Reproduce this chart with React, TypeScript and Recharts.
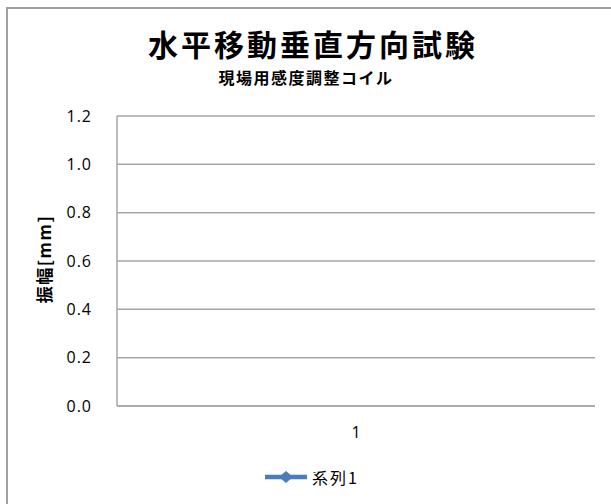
import React from "react";
import {
  LineChart,
  Line,
  XAxis,
  YAxis,
  CartesianGrid,
} from "recharts";

// 系列1 は値なし（空の系列）
const categories = ["1"];
const series1: (number | null)[] = [null];
const yTicks = [0, 0.2, 0.4, 0.6, 0.8, 1.0, 1.2];

const SERIES_COLOR = "#4A7EBB";
const GRID_COLOR = "#A6A6A6";
const JP_FONT = "'Noto Sans CJK JP', 'Noto Sans', sans-serif";
const NUM_FONT = "'Open Sans', 'Noto Sans', sans-serif";

const data = categories.map((c, i) => ({ name: c, s1: series1[i] }));

function LegendContent() {
  return (
    <div
      style={{
        display: "flex",
        alignItems: "center",
        fontFamily: JP_FONT,
        fontSize: 16,
        letterSpacing: 2,
        color: "#000",
        lineHeight: "20px",
      }}
    >
      <svg width={44} height={14} style={{ marginRight: 3 }}>
        <line x1={0} y1={7} x2={42} y2={7} stroke={SERIES_COLOR} strokeWidth={4.5} />
        <polygon points="21,1 28,7 21,13 14,7" fill={SERIES_COLOR} />
      </svg>
      <span>系列1</span>
    </div>
  );
}

export default function App() {
  return (
    <div
      style={{
        position: "fixed",
        left: 0,
        top: 0,
        width: 611,
        height: 504,
        background: "#fff",
        overflow: "hidden",
      }}
    >
      {/* chart frame, cropped at right and bottom */}
      <div
        style={{
          position: "absolute",
          left: 6,
          top: 7,
          width: 700,
          height: 600,
          border: "2px solid #A0A0A0",
        }}
      />
      <div
        style={{
          position: "absolute",
          left: 313,
          top: 23,
          transform: "translateX(-50%)",
          whiteSpace: "nowrap",
          fontFamily: JP_FONT,
          fontWeight: 700,
          fontSize: 30,
          letterSpacing: 3,
          lineHeight: "40px",
        }}
      >
        水平移動垂直方向試験
      </div>
      <div
        style={{
          position: "absolute",
          left: 306,
          top: 66,
          transform: "translateX(-50%)",
          whiteSpace: "nowrap",
          fontFamily: JP_FONT,
          fontWeight: 700,
          fontSize: 16,
          letterSpacing: 1.5,
          lineHeight: "22px",
        }}
      >
        現場用感度調整コイル
      </div>
      <div
        style={{
          position: "absolute",
          left: 44,
          top: 259,
          transform: "translate(-50%, -50%) rotate(-90deg)",
          whiteSpace: "nowrap",
          fontFamily: JP_FONT,
          fontWeight: 700,
          fontSize: 17,
          letterSpacing: 1.5,
          lineHeight: "22px",
        }}
      >
        振幅[mm]
      </div>
      <div style={{ position: "absolute", left: 265, top: 467 }}>
        <LegendContent />
      </div>
      <div style={{ position: "absolute", left: 0, top: 0 }}>
        <LineChart
          width={611}
          height={504}
          data={data}
          margin={{ top: 116, right: 16, bottom: 58, left: 37 }}
        >
          <CartesianGrid
            vertical={false}
            stroke={GRID_COLOR}
            strokeWidth={1.5}
          />
          <XAxis
            dataKey="name"
            type="category"
            axisLine={{ stroke: GRID_COLOR, strokeWidth: 1.5 }}
            tickLine={false}
            tickMargin={15}
            height={40}
            tick={{ fill: "#000", fontSize: 16, fontFamily: NUM_FONT }}
          />
          <YAxis
            type="number"
            width={80}
            domain={[0, 1.2]}
            ticks={yTicks}
            allowDataOverflow
            tickFormatter={(v: number) => v.toFixed(1)}
            axisLine={{ stroke: GRID_COLOR, strokeWidth: 1.5 }}
            tickLine={false}
            tickMargin={19}
            tick={{
              fill: "#000",
              fontSize: 16,
              fontFamily: NUM_FONT,
              letterSpacing: 1,
            }}
          />
          <Line
            dataKey="s1"
            name="系列1"
            stroke={SERIES_COLOR}
            strokeWidth={4}
            dot={false}
            isAnimationActive={false}
          />
        </LineChart>
      </div>
    </div>
  );
}
